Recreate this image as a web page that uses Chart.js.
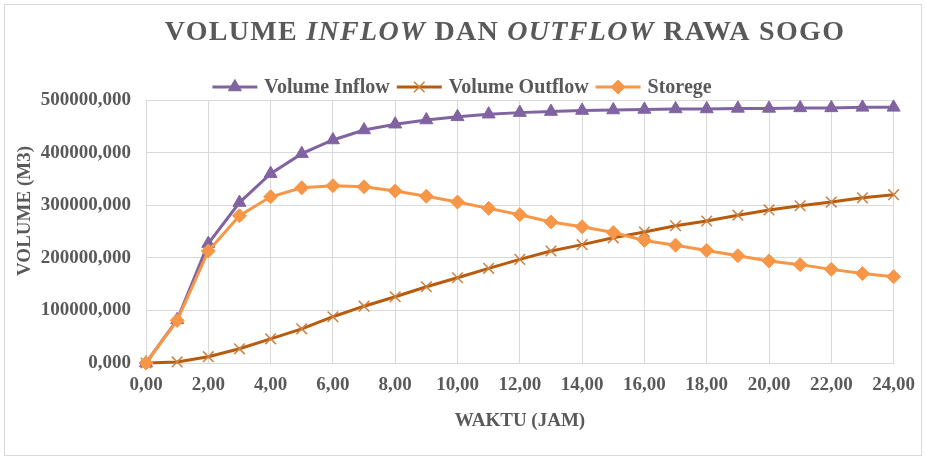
<!DOCTYPE html>
<html>
<head>
<meta charset="utf-8">
<script src="https://cdn.jsdelivr.net/npm/chart.js@4/dist/chart.umd.min.js"></script>
<style>
  html, body { margin: 0; padding: 0; background: #fff; }
  #wrap { width: 926px; height: 460px; position: relative; }
</style>
</head>
<body>
<div id="wrap"><canvas id="chart" width="926" height="460"></canvas></div>
<script>
// Hours since the start of the event
const hours = [0, 1, 2, 3, 4, 5, 6, 7, 8, 9, 10, 11, 12, 13, 14, 15, 16, 17, 18, 19, 20, 21, 22, 23, 24];

// Cumulative volumes (m3)
const volumeInflow = [0, 82000, 227000, 305000, 360000, 398000, 424000, 443000, 454000, 462000, 468000, 473000, 476000,
  478000, 480000, 481000, 482000, 483000, 483000, 484000, 484000, 485000, 485000, 486000, 486000];
const volumeOutflow = [0, 2000, 12000, 27000, 46000, 65000, 88000, 108000, 126000, 145000, 162000, 180000, 197000,
  213000, 225000, 238000, 249000, 261000, 270000, 281000, 291000, 299000, 306000, 314000, 320000];
const storege = [0, 81000, 213000, 280000, 316000, 333000, 337000, 335000, 327000, 317000, 306000, 294000, 282000,
  268000, 259000, 248000, 233000, 224000, 214000, 204000, 194000, 187000, 178000, 170000, 164000];

const seriesNames = ['Volume Inflow', 'Volume Outflow', 'Storege'];
const xTickValues = [0, 2, 4, 6, 8, 10, 12, 14, 16, 18, 20, 22, 24];
const yTickValues = [0, 100000, 200000, 300000, 400000, 500000];

const titleParts = [
  { text: 'VOLUME ', italic: false },
  { text: 'INFLOW', italic: true },
  { text: ' DAN ', italic: false },
  { text: 'OUTFLOW', italic: true },
  { text: ' RAWA SOGO', italic: false }
];
const yAxisTitle = 'VOLUME (M3)';
const xAxisTitle = 'WAKTU (JAM)';

const SERIF = '"Liberation Serif", "Times New Roman", serif';
const INK = '#595959';
const GRID = '#d9d9d9';

const toPoints = (vals) => vals.map((v, i) => ({ x: hours[i], y: v }));
const comma = (v, d) => Number(v).toFixed(d).replace('.', ',');

function marker(ctx, ds, x, y) {
  const opts = {
    pointStyle: ds.pointStyle,
    radius: ds.pointRadius,
    rotation: 0,
    borderWidth: ds.pointBorderWidth
  };
  ctx.fillStyle = ds.pointBackgroundColor;
  ctx.strokeStyle = ds.pointBorderColor;
  ctx.lineWidth = ds.pointBorderWidth;
  Chart.helpers.drawPoint(ctx, opts, x, y);
}

const decor = {
  id: 'decor',
  beforeDraw(chart) {
    const { ctx, width, height } = chart;
    ctx.save();
    ctx.fillStyle = '#fff';
    ctx.fillRect(0, 0, width, height);
    ctx.strokeStyle = GRID;
    ctx.lineWidth = 1;
    ctx.strokeRect(4.5, 4.5, 917, 451);
    ctx.restore();
  },
  afterDraw(chart) {
    const { ctx } = chart;
    ctx.save();

    // title with italic words
    ctx.fillStyle = INK;
    ctx.textBaseline = 'middle';
    ctx.textAlign = 'left';
    ctx.letterSpacing = '1.3px';
    const fontFor = (p) => (p.italic ? 'italic ' : '') + 'bold 28px ' + SERIF;
    let total = 0;
    titleParts.forEach(p => { ctx.font = fontFor(p); total += ctx.measureText(p.text).width; });
    let tx = 505 - total / 2;
    titleParts.forEach(p => {
      ctx.font = fontFor(p);
      ctx.fillText(p.text, tx, 33);
      tx += ctx.measureText(p.text).width;
    });
    ctx.letterSpacing = '0px';

    // legend: line sample with marker, then the series name
    ctx.font = 'bold 20px ' + SERIF;
    const order = [0, 1, 2];
    const lineLen = 45, gapText = 7, gapItem = 7;
    const widths = order.map(i => lineLen + gapText + ctx.measureText(chart.data.datasets[i].label).width);
    const legendW = widths.reduce((a, b) => a + b, 0) + gapItem * (order.length - 1);
    let lx = 462 - legendW / 2;
    const ly = 87;
    order.forEach((i, k) => {
      const ds = chart.data.datasets[i];
      ctx.strokeStyle = ds.borderColor;
      ctx.lineWidth = ds.borderWidth;
      ctx.beginPath();
      ctx.moveTo(lx, ly);
      ctx.lineTo(lx + lineLen, ly);
      ctx.stroke();
      marker(ctx, ds, lx + lineLen / 2, ly);
      ctx.fillStyle = INK;
      ctx.textAlign = 'left';
      ctx.textBaseline = 'middle';
      ctx.fillText(ds.label, lx + lineLen + gapText, ly + 1);
      lx += widths[k] + gapItem;
    });

    // axis titles
    ctx.fillStyle = INK;
    ctx.font = 'bold 19px ' + SERIF;
    ctx.textAlign = 'center';
    ctx.textBaseline = 'middle';
    ctx.fillText(xAxisTitle, 520, 421);
    ctx.translate(25, 211);
    ctx.rotate(-Math.PI / 2);
    ctx.fillText(yAxisTitle, 0, 0);
    ctx.restore();
  }
};

const tickFont = { family: SERIF, size: 19, weight: 'bold' };

new Chart(document.getElementById('chart'), {
  type: 'line',
  data: {
    datasets: [
      {
        label: seriesNames[0],
        data: toPoints(volumeInflow),
        borderColor: '#8064A2',
        backgroundColor: '#8064A2',
        borderWidth: 3,
        pointStyle: 'triangle',
        pointRadius: 7.5,
        pointBackgroundColor: '#8064A2',
        pointBorderColor: '#8064A2',
        pointBorderWidth: 1,
        order: 2,
        clip: false
      },
      {
        label: seriesNames[1],
        data: toPoints(volumeOutflow),
        borderColor: '#B95B0C',
        backgroundColor: '#B95B0C',
        borderWidth: 3,
        pointStyle: 'crossRot',
        pointRadius: 7.5,
        pointBackgroundColor: '#CC8040',
        pointBorderColor: '#CC8040',
        pointBorderWidth: 1.5,
        order: 1,
        clip: false
      },
      {
        label: seriesNames[2],
        data: toPoints(storege),
        borderColor: '#F79646',
        backgroundColor: '#F79646',
        borderWidth: 3,
        pointStyle: 'rectRot',
        pointRadius: 7,
        pointBackgroundColor: '#F79646',
        pointBorderColor: '#F79646',
        pointBorderWidth: 1,
        order: 0,
        clip: false
      }
    ]
  },
  options: {
    responsive: false,
    animation: false,
    devicePixelRatio: 1,
    layout: { padding: { top: 100, right: 30, bottom: 0, left: 0 } },
    plugins: {
      legend: { display: false },
      title: { display: false },
      tooltip: { enabled: false }
    },
    scales: {
      x: {
        type: 'linear',
        min: 0,
        max: 24,
        afterBuildTicks: (s) => { s.ticks = xTickValues.map(v => ({ value: v })); },
        afterFit: (s) => { s.height = 97; },
        grid: { color: GRID, lineWidth: 1, drawTicks: false },
        border: { color: GRID },
        ticks: {
          padding: 11,
          autoSkip: false,
          maxRotation: 0,
          color: INK,
          font: tickFont,
          callback: (v) => comma(v, 2)
        }
      },
      y: {
        type: 'linear',
        min: 0,
        max: 500000,
        afterBuildTicks: (s) => { s.ticks = yTickValues.map(v => ({ value: v })); },
        afterFit: (s) => { s.width = 146; },
        grid: { color: GRID, lineWidth: 1, drawTicks: false },
        border: { color: GRID },
        ticks: {
          padding: 15,
          color: INK,
          font: tickFont,
          callback: (v) => comma(v, 3)
        }
      }
    }
  },
  plugins: [decor]
});
</script>
</body>
</html>
